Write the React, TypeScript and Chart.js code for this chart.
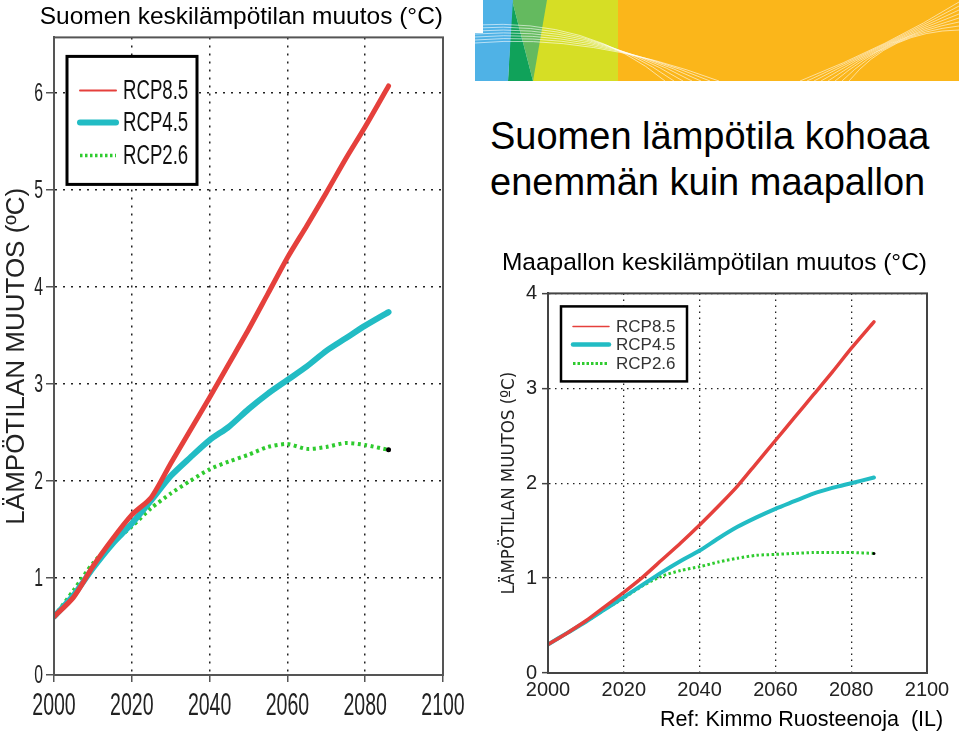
import React, { useEffect, useRef } from 'react';
import { Chart, registerables } from 'chart.js';

Chart.register(...registerables);

// ---------- data ----------
const YEARS = [2000, 2005, 2010, 2015, 2020, 2025, 2030, 2035, 2040, 2045, 2050, 2055, 2060, 2065, 2070, 2075, 2080, 2086];
const SERIES_LABELS = ['RCP8.5', 'RCP4.5', 'RCP2.6'];

// Finland (Suomi)
const FI_RCP85 = [0.60, 0.80, 1.12, 1.40, 1.65, 1.83, 2.18, 2.52, 2.86, 3.21, 3.56, 3.93, 4.30, 4.63, 4.97, 5.32, 5.65, 6.07];
const FI_RCP45 = [0.60, 0.82, 1.10, 1.35, 1.56, 1.80, 2.05, 2.24, 2.42, 2.56, 2.74, 2.90, 3.04, 3.18, 3.34, 3.47, 3.60, 3.74];
const FI_RCP26 = [0.60, 0.87, 1.15, 1.36, 1.53, 1.72, 1.87, 2.00, 2.12, 2.20, 2.27, 2.35, 2.38, 2.33, 2.35, 2.39, 2.37, 2.32];

// Globe (Maapallo)
const GL_RCP85 = [0.30, 0.42, 0.55, 0.70, 0.85, 1.01, 1.19, 1.37, 1.56, 1.76, 1.97, 2.21, 2.45, 2.69, 2.93, 3.17, 3.42, 3.70];
const GL_RCP45 = [0.30, 0.42, 0.54, 0.67, 0.80, 0.93, 1.06, 1.18, 1.29, 1.42, 1.54, 1.64, 1.73, 1.81, 1.89, 1.95, 2.00, 2.06];
const GL_RCP26 = [0.30, 0.42, 0.54, 0.67, 0.79, 0.92, 1.02, 1.08, 1.12, 1.17, 1.21, 1.24, 1.25, 1.26, 1.27, 1.27, 1.27, 1.26];

const X_TICKS = [2000, 2020, 2040, 2060, 2080, 2100];
const FI_Y_TICKS = [0, 1, 2, 3, 4, 5, 6];
const GL_Y_TICKS = [0, 1, 2, 3, 4];

const FI_TITLE = 'Suomen keskilämpötilan muutos (°C)';
const GL_TITLE = 'Maapallon keskilämpötilan muutos (°C)';
const Y_TITLE = 'LÄMPÖTILAN MUUTOS (ºC)';
const HEADLINE = ['Suomen lämpötila kohoaa', 'enemmän kuin maapallon'];
const REF_TEXT = 'Ref: Kimmo Ruosteenoja  (IL)';

// ---------- styling ----------
const CONDENSED = "'DejaVu Sans Condensed', 'Liberation Sans Narrow', sans-serif";
const SANS = "'Liberation Sans', Arial, Helvetica, sans-serif";
const RED = '#E5403C';
const CYAN = '#22BCC4';
const GREEN = '#2FCB2F';

const pts = (vals: number[]) => YEARS.map((x, i) => ({ x, y: vals[i] }));

function drawScaledText(ctx: CanvasRenderingContext2D, text: string, x: number, y: number, sx: number) {
  ctx.save();
  ctx.translate(x, y);
  ctx.scale(sx, 1);
  ctx.fillText(text, 0, 0);
  ctx.restore();
}

function makeFrame(color: string, width: number) {
  return {
    id: 'frame',
    afterDatasetsDraw(chart: any) {
      const { ctx, chartArea: a } = chart;
      ctx.save();
      ctx.strokeStyle = color;
      ctx.lineWidth = width;
      ctx.setLineDash([]);
      ctx.strokeRect(a.left, a.top, a.right - a.left, a.bottom - a.top);
      ctx.restore();
    },
  };
}

type CondCfg = { xFont: number; yFont: number; sx: number; xBaseline: number; yRight: number };

// Narrow tick labels, drawn from the chart's own scale ticks
function makeCondensedTicks(c: CondCfg) {
  return {
    id: 'condensedTicks',
    afterDraw(chart: any) {
      const { ctx } = chart;
      const xs = chart.scales.x;
      const ys = chart.scales.y;
      ctx.save();
      ctx.fillStyle = '#222';
      ctx.font = `${c.xFont}px ${SANS}`;
      ctx.textAlign = 'center';
      ctx.textBaseline = 'alphabetic';
      xs.ticks.forEach((t: any) => {
        const px = xs.getPixelForValue(t.value);
        drawScaledText(ctx, String(t.label ?? t.value), px, xs.top + c.xBaseline, c.sx);
      });
      ctx.font = `${c.yFont}px ${SANS}`;
      ctx.textAlign = 'right';
      ctx.textBaseline = 'middle';
      ys.ticks.forEach((t: any) => {
        const py = ys.getPixelForValue(t.value);
        drawScaledText(ctx, String(t.label ?? t.value), ys.right - c.yRight, py + 1, c.sx);
      });
      ctx.restore();
    },
  };
}

type LegendCfg = {
  dx: number; dy: number; w: number; h: number; border: number;
  rows: number[]; sx0: number; sx1: number; tx: number;
  widths: number[]; dashes: number[][]; font: string; color: string; textScale: number;
};

function makeLegend(cfg: LegendCfg) {
  return {
    id: 'boxLegend',
    afterDatasetsDraw(chart: any) {
      const { ctx, chartArea: a } = chart;
      const x0 = a.left + cfg.dx;
      const y0 = a.top + cfg.dy;
      ctx.save();
      ctx.setLineDash([]);
      ctx.fillStyle = '#fff';
      ctx.fillRect(x0, y0, cfg.w, cfg.h);
      ctx.lineWidth = cfg.border;
      ctx.strokeStyle = '#000';
      ctx.strokeRect(x0, y0, cfg.w, cfg.h);
      chart.data.datasets.forEach((ds: any, i: number) => {
        const y = y0 + cfg.rows[i];
        ctx.beginPath();
        ctx.setLineDash(cfg.dashes[i]);
        ctx.lineCap = cfg.dashes[i].length ? 'butt' : 'round';
        ctx.lineWidth = cfg.widths[i];
        ctx.strokeStyle = ds.borderColor;
        ctx.moveTo(x0 + cfg.sx0, y);
        ctx.lineTo(x0 + cfg.sx1, y);
        ctx.stroke();
        ctx.setLineDash([]);
        ctx.fillStyle = cfg.color;
        ctx.font = cfg.font;
        ctx.textAlign = 'left';
        ctx.textBaseline = 'middle';
        drawScaledText(ctx, ds.label, x0 + cfg.tx, y + 1, cfg.textScale);
      });
      ctx.restore();
    },
  };
}

type ChartCfg = {
  width: number; height: number;
  title: string; titleFont: number; titlePad: { top: number; bottom: number };
  series: number[][]; lineWidths: number[]; greenDash: number[];
  yTicks: number[]; yMax: number; yAxisWidth: number; xAxisHeight: number;
  padRight: number;
  tickFont: number; tickFamily: string; condensed: CondCfg | null;
  yTickLen: number; xTickLen: number; yTickPad: number; xTickPad: number;
  yTitleFont: number; yTitleFamily: string; yTitlePad: number;
  gridDash: number[]; gridWidth: number; axisColor: string; axisWidth: number;
  legend: LegendCfg; dot: number;
};

function ClimateChart({ cfg, style }: { cfg: ChartCfg; style: React.CSSProperties }) {
  const ref = useRef<HTMLCanvasElement>(null);
  useEffect(() => {
    if (!ref.current) return;
    const colors = [RED, CYAN, GREEN];
    const datasets = cfg.series.map((vals, i) => ({
      label: SERIES_LABELS[i],
      data: pts(vals),
      borderColor: colors[i],
      backgroundColor: colors[i],
      borderWidth: cfg.lineWidths[i],
      borderDash: i === 2 ? cfg.greenDash : [],
      borderCapStyle: i === 2 ? 'butt' : 'round',
      tension: 0.25,
      fill: false,
      pointRadius: i === 2 ? (c: any) => (c.dataIndex === vals.length - 1 ? cfg.dot : 0) : 0,
      pointBackgroundColor: '#000',
      pointBorderWidth: 0,
    }));
    const showTicks = !cfg.condensed;
    const plugins: any[] = [makeFrame(cfg.axisColor, cfg.axisWidth), makeLegend(cfg.legend)];
    if (cfg.condensed) plugins.push(makeCondensedTicks(cfg.condensed));
    const chart = new Chart(ref.current, {
      type: 'line',
      data: { datasets } as any,
      options: {
        animation: false,
        responsive: false,
        layout: { padding: { left: 0, right: cfg.padRight, top: 0, bottom: 0 } },
        plugins: {
          legend: { display: false },
          tooltip: { enabled: false },
          title: {
            display: true,
            text: cfg.title,
            align: 'end',
            color: '#000',
            font: { family: SANS, size: cfg.titleFont, weight: 'normal' },
            padding: cfg.titlePad,
          },
        },
        scales: {
          x: {
            type: 'linear',
            min: X_TICKS[0],
            max: X_TICKS[X_TICKS.length - 1],
            afterBuildTicks: (s: any) => { s.ticks = X_TICKS.map((v) => ({ value: v })); },
            afterFit: (s: any) => { s.height = cfg.xAxisHeight; },
            ticks: {
              display: showTicks,
              color: '#222',
              font: { family: cfg.tickFamily, size: cfg.tickFont },
              padding: cfg.xTickPad,
              maxRotation: 0,
              autoSkip: false,
              callback: (v: any) => String(v),
            },
            grid: {
              color: '#222',
              lineWidth: cfg.gridWidth,
              drawTicks: cfg.xTickLen > 0,
              tickLength: cfg.xTickLen,
              tickColor: cfg.axisColor,
              tickWidth: 1.5,
              tickBorderDash: [],
            },
            border: { display: true, color: cfg.axisColor, width: cfg.axisWidth, dash: cfg.gridDash },
          },
          y: {
            type: 'linear',
            min: 0,
            max: cfg.yMax,
            afterBuildTicks: (s: any) => { s.ticks = cfg.yTicks.map((v) => ({ value: v })); },
            afterFit: (s: any) => { s.width = cfg.yAxisWidth; },
            ticks: {
              display: showTicks,
              color: '#222',
              font: { family: cfg.tickFamily, size: cfg.tickFont },
              padding: cfg.yTickPad,
              autoSkip: false,
              callback: (v: any) => String(v),
            },
            grid: {
              color: '#222',
              lineWidth: cfg.gridWidth,
              tickLength: cfg.yTickLen,
              tickColor: cfg.axisColor,
              tickWidth: 1.5,
              tickBorderDash: [],
            },
            border: { display: true, color: cfg.axisColor, width: cfg.axisWidth, dash: cfg.gridDash },
            title: {
              display: true,
              text: Y_TITLE,
              color: '#222',
              font: { family: cfg.yTitleFamily, size: cfg.yTitleFont },
              padding: { top: cfg.yTitlePad, bottom: 0 },
            },
          },
        },
      } as any,
      plugins,
    });
    return () => chart.destroy();
  }, [cfg]);
  return (
    <canvas
      ref={ref}
      width={cfg.width}
      height={cfg.height}
      style={{ position: 'absolute', width: cfg.width, height: cfg.height, ...style }}
    />
  );
}

const FI_CFG: ChartCfg = {
  width: 470, height: 734,
  title: FI_TITLE, titleFont: 24.5, titlePad: { top: 3, bottom: 5 },
  series: [FI_RCP85, FI_RCP45, FI_RCP26], lineWidths: [5, 6, 4], greenDash: [3, 3.5],
  yTicks: FI_Y_TICKS, yMax: 6.57, yAxisWidth: 54, xAxisHeight: 59, padRight: 27,
  tickFont: 20, tickFamily: SANS,
  condensed: { xFont: 31, yFont: 25, sx: 0.63, xBaseline: 40, yRight: 11 },
  yTickLen: 8, xTickLen: 7, yTickPad: 3, xTickPad: 4,
  yTitleFont: 26, yTitleFamily: SANS, yTitlePad: 1,
  gridDash: [2, 6], gridWidth: 1.5, axisColor: '#555', axisWidth: 2,
  legend: {
    dx: 13, dy: 19, w: 130, h: 128, border: 3,
    rows: [34, 66, 99], sx0: 13, sx1: 49, tx: 56,
    widths: [2, 6, 3.5], dashes: [[], [], [2.5, 2.5]],
    font: `27px ${SANS}`, color: '#111', textScale: 0.69,
  },
  dot: 2.5,
};

const GL_CFG: ChartCfg = {
  width: 479, height: 489,
  title: GL_TITLE, titleFont: 24.5, titlePad: { top: 4, bottom: 15 },
  series: [GL_RCP85, GL_RCP45, GL_RCP26], lineWidths: [3.5, 4, 3], greenDash: [2.5, 2.5],
  yTicks: GL_Y_TICKS, yMax: 4, yAxisWidth: 68, xAxisHeight: 61, padRight: 32,
  tickFont: 20, tickFamily: SANS, condensed: null,
  yTickLen: 6, xTickLen: 0, yTickPad: 5, xTickPad: 5,
  yTitleFont: 18.5, yTitleFamily: CONDENSED, yTitlePad: 18,
  gridDash: [1.5, 4.5], gridWidth: 1.3, axisColor: '#444', axisWidth: 2,
  legend: {
    dx: 13, dy: 13, w: 126, h: 75, border: 2.5,
    rows: [20, 38, 57], sx0: 12, sx1: 48, tx: 55,
    widths: [1.5, 4.5, 3], dashes: [[], [], [2.5, 2]],
    font: `17px ${SANS}`, color: '#333', textScale: 1,
  },
  dot: 1.5,
};

function Banner() {
  const leftArcs = [0, 1, 2, 3, 4, 5, 6];
  const rightArcs = [0, 1, 2, 3, 4, 5, 6, 7];
  return (
    <svg width={484} height={81} style={{ position: 'absolute', left: 475, top: 0 }} viewBox="475 0 484 81">
      <rect x={533} y={0} width={426} height={81} fill="#FBB61A" />
      <rect x={533} y={0} width={85} height={81} fill="#D6DE25" />
      <polygon points="512,0 547,0 533,81" fill="#64BA5F" />
      <polygon points="508,81 533,81 512,0" fill="#10A25A" />
      <polygon points="483,0 513,0 508,81 475,81 475,33 483,33" fill="#4FB2E6" />
      {leftArcs.map((i) => (
        <path
          key={'l' + i}
          d={`M 475 ${25 + i * 3} Q 590 ${18 + i * 2.5} ${665 + i * 9} 81`}
          stroke="#fff"
          strokeOpacity={0.75}
          strokeWidth={0.8}
          fill="none"
        />
      ))}
      {rightArcs.map((i) => (
        <path
          key={'r' + i}
          d={`M ${800 + i * 7} 81 Q 890 ${45 - i * 2} 959 ${2 + i * 4}`}
          stroke="#fff"
          strokeOpacity={0.7}
          strokeWidth={0.8}
          fill="none"
        />
      ))}
    </svg>
  );
}

export default function App() {
  return (
    <div
      style={{
        position: 'absolute', left: 0, top: 0, width: 959, height: 734,
        background: '#fff', overflow: 'hidden', fontFamily: SANS,
      }}
    >
      <ClimateChart cfg={FI_CFG} style={{ left: 0, top: 0 }} />
      <Banner />
      <div
        style={{
          position: 'absolute', left: 490, top: 113, fontSize: 38, lineHeight: '46px',
          color: '#000', whiteSpace: 'nowrap', fontFamily: SANS,
        }}
      >
        {HEADLINE.map((l) => (
          <div key={l}>{l}</div>
        ))}
      </div>
      <ClimateChart cfg={GL_CFG} style={{ left: 480, top: 245 }} />
      <div
        style={{
          position: 'absolute', left: 660, top: 709, fontSize: 21.5, lineHeight: '21.5px',
          color: '#000', whiteSpace: 'pre', fontFamily: SANS,
        }}
      >
        {REF_TEXT}
      </div>
    </div>
  );
}
